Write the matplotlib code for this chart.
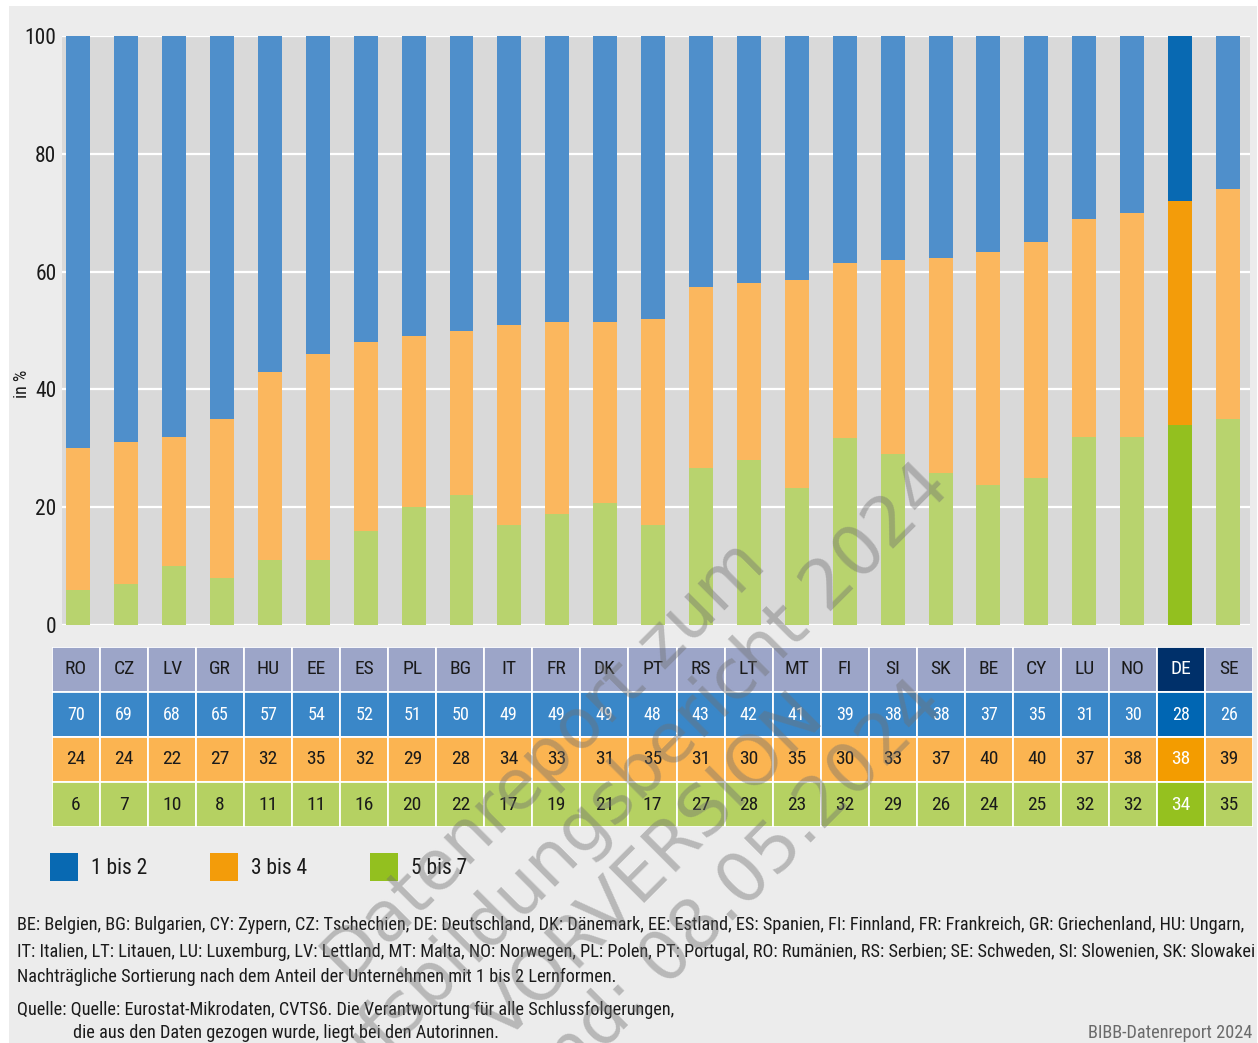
import matplotlib
matplotlib.use("Agg")
import matplotlib.pyplot as plt
from matplotlib import font_manager as fm
from matplotlib.patches import Rectangle
import numpy as np

# ---------------------------------------------------------------- data
countries = ["RO", "CZ", "LV", "GR", "HU", "EE", "ES", "PL", "BG", "IT", "FR", "DK", "PT",
             "RS", "LT", "MT", "FI", "SI", "SK", "BE", "CY", "LU", "NO", "DE", "SE"]
share_1_2 = [70, 69, 68, 65, 57, 54, 52, 51, 50, 49, 49, 49, 48,
             43, 42, 41, 39, 38, 38, 37, 35, 31, 30, 28, 26]
share_3_4 = [24, 24, 22, 27, 32, 35, 32, 29, 28, 34, 33, 31, 35,
             31, 30, 35, 30, 33, 37, 40, 40, 37, 38, 38, 39]
share_5_7 = [6, 7, 10, 8, 11, 11, 16, 20, 22, 17, 19, 21, 17,
             27, 28, 23, 32, 29, 26, 24, 25, 32, 32, 34, 35]
series_labels = ["1 bis 2", "3 bis 4", "5 bis 7"]
y_ticks = [0, 20, 40, 60, 80, 100]
highlight = "DE"

footnotes = [
    "BE: Belgien, BG: Bulgarien, CY: Zypern, CZ: Tschechien, DE: Deutschland, DK: Dänemark, EE: Estland, "
    "ES: Spanien, FI: Finnland, FR: Frankreich, GR: Griechenland, HU: Ungarn,",
    "IT: Italien, LT: Litauen, LU: Luxemburg, LV: Lettland, MT: Malta, NO: Norwegen, PL: Polen, "
    "PT: Portugal, RO: Rumänien, RS: Serbien; SE: Schweden, SI: Slowenien, SK: Slowakei",
    "Nachträgliche Sortierung nach dem Anteil der Unternehmen mit 1 bis 2 Lernformen.",
]
source_lines = [
    "Quelle: Quelle: Eurostat-Mikrodaten, CVTS6. Die Verantwortung für alle Schlussfolgerungen,",
    "die aus den Daten gezogen wurde, liegt bei den Autorinnen.",
]
credit = "BIBB-Datenreport 2024"
watermark = "Datenreport zum\nBerufsbildungsbericht 2024\nVORVERSION\nStand: 08.05.2024"

# ---------------------------------------------------------------- colours
col_light = ["#4f8fcb", "#fbb75e", "#b8d36e"]      # bars, regular countries
col_strong = ["#0869b2", "#f39c0a", "#93c01f"]     # bars + legend, Germany
tab_row = ["#3a87c8", "#fbb451", "#b5d162"]
tab_row_de = ["#0066b3", "#f39c00", "#95c11f"]
tab_head = "#9ca5c8"
tab_head_de = "#00306a"
txt = "#1a1a1a"

# ---------------------------------------------------------------- fonts
def pick_font():
    files = [f.fname for f in fm.fontManager.ttflist]
    prefs = ["RobotoCondensed-Regular", "LiberationSansNarrow-Regular",
             "DejaVuSansCondensed.ttf", "Roboto-Regular"]
    for p in prefs:
        for f in files:
            if p in f:
                return f
    return None

cond_file = pick_font()


def font(size):
    if cond_file:
        return fm.FontProperties(fname=cond_file, size=size)
    return fm.FontProperties(family="DejaVu Sans", size=size)


W, H = 1258, 1043
fig = plt.figure(figsize=(W / 100, H / 100), dpi=100, facecolor="white")


def px_axes(x0, y0, x1, y1, **kw):
    """Axes placed by pixel box (top-left origin)."""
    return fig.add_axes([x0 / W, 1 - y1 / H, (x1 - x0) / W, (y1 - y0) / H], **kw)


# full-figure overlay in pixel coordinates for background and decorations
deco = px_axes(0, 0, W, H, zorder=0)
deco.set_xlim(0, W)
deco.set_ylim(H, 0)
deco.axis("off")
deco.add_patch(Rectangle((9, 6), W - 10, H - 6, color="#ececec", lw=0))

# ---------------------------------------------------------------- bars
ax = px_axes(62, 36, 1250, 625, zorder=2)
n = len(countries)
x = np.arange(n)
green = np.array(share_5_7, float)
orange = np.array(share_3_4, float)
blue = np.array(share_1_2, float)
# rounded shares do not always add up to 100: stack them as shares of their sum
total = green + orange + blue
green, orange, blue = (100 * a / total for a in (green, orange, blue))
is_de = [c == highlight for c in countries]


def colours(i):
    return [col_strong[i] if d else col_light[i] for d in is_de]


ax.bar(x, green, width=0.5, color=colours(2), lw=0, zorder=3)
ax.bar(x, orange, width=0.5, bottom=green, color=colours(1), lw=0, zorder=3)
ax.bar(x, blue, width=0.5, bottom=green + orange, color=colours(0), lw=0, zorder=3)

ax.set_facecolor("#d9d9d9")
ax.set_xlim(-0.34, n - 0.54)
ax.set_ylim(0, 100)
ax.set_yticks(y_ticks)
ax.set_yticklabels([str(v) for v in y_ticks], fontproperties=font(15.5), color=txt)
ax.tick_params(axis="y", length=0, pad=4)
ax.set_xticks([])
ax.grid(axis="y", color="white", lw=1.6, zorder=1)
ax.set_axisbelow(True)
for s in ax.spines.values():
    s.set_visible(False)

fig.text(22 / W, 1 - 384 / H, "in %", rotation=90, ha="center", va="center",
         fontproperties=font(13), color=txt)

# ---------------------------------------------------------------- table
tab = px_axes(52, 647, 1253, 827, zorder=2)
tab.set_xlim(0, n)
tab.set_ylim(4, 0)
tab.axis("off")
rows = [countries, share_1_2, share_3_4, share_5_7]
for r, row in enumerate(rows):
    for c, val in enumerate(row):
        de = is_de[c]
        if r == 0:
            fc = tab_head_de if de else tab_head
            tc = "white" if de else txt
        else:
            fc = tab_row_de[r - 1] if de else tab_row[r - 1]
            tc = "white" if (de or r == 1) else txt
        tab.add_patch(Rectangle((c, r), 1, 1, facecolor=fc, edgecolor="white", lw=1.3))
        tab.text(c + 0.5, r + 0.5, str(val), ha="center", va="center",
                 fontproperties=font(14 if r != 1 else 13), color=tc)

# ---------------------------------------------------------------- legend
legend_x = [50, 210, 370]
for lx, lab, colr in zip(legend_x, series_labels, col_strong):
    deco.add_patch(Rectangle((lx, 853), 28, 28, color=colr, lw=0))
    deco.text(lx + 41, 868, lab, ha="left", va="center", fontproperties=font(15.5), color=txt)

# ---------------------------------------------------------------- notes
renderer = fig.canvas.get_renderer()
widths = []
for line in footnotes[:2]:
    probe = fig.text(17 / W, 0.5, line, fontproperties=font(13))
    widths.append(probe.get_window_extent(renderer).width)
    probe.remove()
note_size = 13 * (1233 / max(widths))

for yy, line in zip([925, 952, 977], footnotes):
    deco.text(17, yy, line, ha="left", va="center", fontproperties=font(note_size), color=txt)
deco.text(17, 1010, source_lines[0], ha="left", va="center",
          fontproperties=font(note_size), color=txt)
deco.text(73, 1033, source_lines[1], ha="left", va="center",
          fontproperties=font(note_size), color=txt)
deco.text(1252, 1033, credit, ha="right", va="center",
          fontproperties=font(note_size), color="#6a6a6a")

# ---------------------------------------------------------------- watermark
fig.text(625 / W, 1 - 842 / H, watermark, rotation=45, ha="center", va="center",
         multialignment="center", fontsize=50, family="DejaVu Sans",
         color="#707070", alpha=0.42, linespacing=1.15, zorder=10)

fig.savefig("out.png", dpi=100, facecolor="white")
